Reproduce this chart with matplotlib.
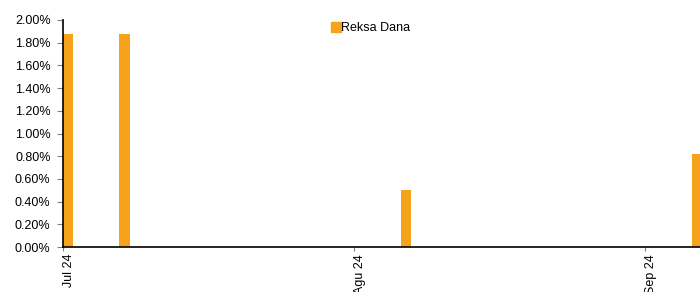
import matplotlib
matplotlib.use("Agg")
import matplotlib.pyplot as plt
import matplotlib.dates as mdates
from matplotlib.lines import Line2D
import datetime as dt

plt.rcParams['font.family'] = ['Liberation Sans', 'DejaVu Sans']

dates = [dt.date(2024, 7, 1), dt.date(2024, 7, 7), dt.date(2024, 8, 6), dt.date(2024, 9, 6)]
values = [1.88, 1.88, 0.50, 0.82]
tick_dates = [dt.date(2024, 7, 1), dt.date(2024, 8, 1), dt.date(2024, 9, 1)]
tick_labels = ["Jul 24", "Agu 24", "Sep 24"]
bar_color = "#F6A31C"

fig = plt.figure(figsize=(7.0, 2.92), dpi=100)
ax = fig.add_axes([63 / 700, 1 - 247 / 292, 1 - 63 / 700, (247 - 20) / 292])

ax.bar(dates, [v / 100 for v in values], width=1.1, align='edge', color=bar_color, zorder=2)

ax.set_ylim(0, 0.02)
ax.set_yticks([i * 0.002 for i in range(11)])
ax.set_yticklabels([f"{i * 0.2:.2f}%" for i in range(11)])
ax.set_xlim(mdates.date2num(dt.date(2024, 7, 1)), mdates.date2num(dt.date(2024, 9, 1)) + 5.9)
ax.set_xticks([mdates.date2num(d) for d in tick_dates])
# left-aligned rotated labels sit just right of their ticks, as in the reference
ax.set_xticklabels(tick_labels, rotation=90, ha='left')

for s in ['top', 'right']:
    ax.spines[s].set_visible(False)
for s in ['left', 'bottom']:
    ax.spines[s].set_linewidth(1.2)
    ax.spines[s].set_zorder(3)
ax.tick_params(axis='y', labelsize=9, length=4, width=0.8, color='#808080', pad=5)
ax.tick_params(axis='x', labelsize=9, length=3, width=0.8, color='#808080', pad=2)

handle = Line2D([], [], marker='s', linestyle='none', markersize=7.5, color=bar_color)
ax.legend([handle], ["Reksa Dana"], loc='upper center', bbox_to_anchor=(0.483, 0.99),
          frameon=False, fontsize=9, handletextpad=0.0, borderaxespad=0.0,
          handlelength=0.8, borderpad=0.0)

fig.savefig("out.png", dpi=100)
